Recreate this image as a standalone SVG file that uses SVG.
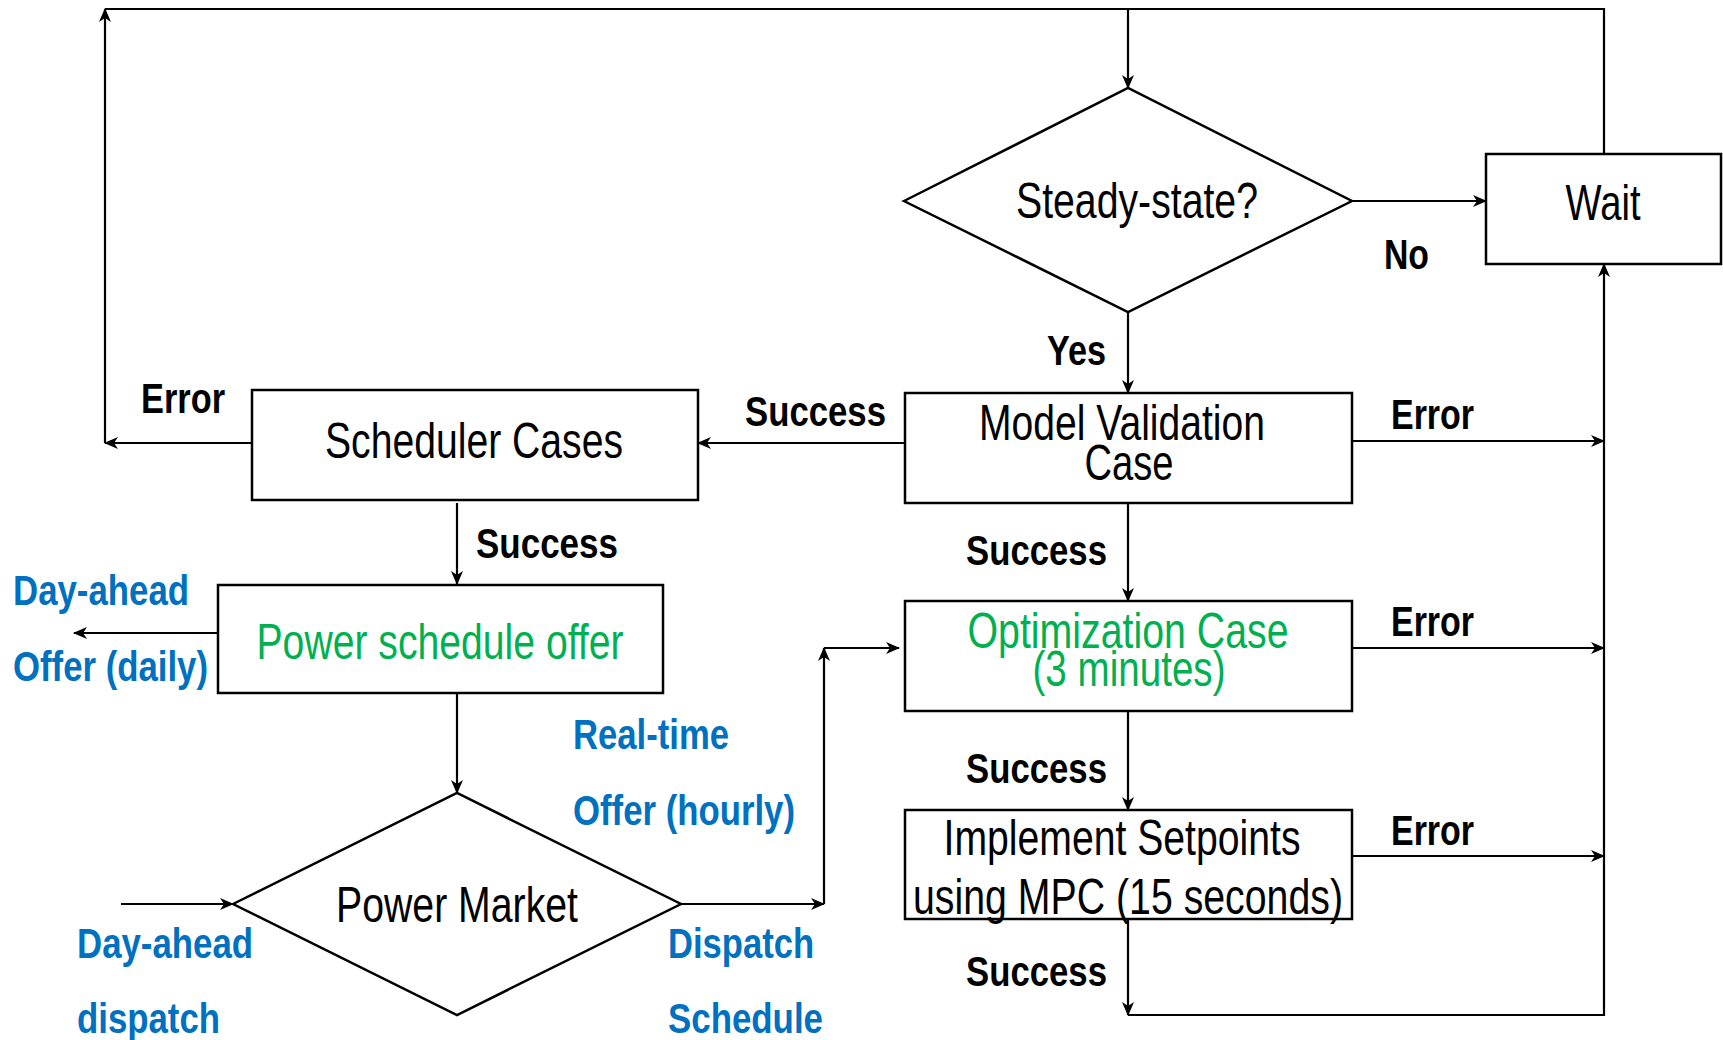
<svg xmlns="http://www.w3.org/2000/svg" width="1723" height="1040" viewBox="0 0 1723 1040">
<defs>
<marker id="ah" viewBox="0 0 14 12" refX="13" refY="6" markerWidth="14" markerHeight="12" markerUnits="userSpaceOnUse" orient="auto">
<path d="M0,0 L14,6 L0,12 L4,6 z" fill="#000"/>
</marker>
<style>
.box{fill:#fff;stroke:#000;stroke-width:2.5}
.c{fill:none;stroke:#000;stroke-width:2.2}
.a{marker-end:url(#ah)}
.n{font-family:"Liberation Sans Narrow","Liberation Sans",Arial,sans-serif;font-size:50px;fill:#000;text-anchor:middle}
.g{fill:#00B050}
.l{font-family:"Liberation Sans Narrow","Liberation Sans",Arial,sans-serif;font-size:42px;font-weight:bold;fill:#000}
.b{fill:#0070C0}
</style>
</defs>
<g id="connectors">
<path class="c a" d="M252,443 H105"/>
<path class="c a" d="M105,443 V9"/>
<path class="c" d="M105,9 H1604 V154"/>
<path class="c a" d="M1128,9 V88"/>
<path class="c a" d="M1352,201 H1486"/>
<path class="c a" d="M1128,312 V393"/>
<path class="c a" d="M905,443 H698"/>
<path class="c a" d="M1352,441 H1604"/>
<path class="c a" d="M1128,503 V601"/>
<path class="c a" d="M1352,648 H1604"/>
<path class="c a" d="M1128,711 V810"/>
<path class="c a" d="M1352,856 H1604"/>
<path class="c a" d="M1128,919 V1015"/>
<path class="c a" d="M1128,1015 H1604 V264"/>
<path class="c a" d="M457,503 V584"/>
<path class="c a" d="M218,633 H74"/>
<path class="c a" d="M457,693 V793"/>
<path class="c a" d="M121,904 H233"/>
<path class="c a" d="M681,904 H824"/>
<path class="c a" d="M824,904 V648"/>
<path class="c a" d="M824,648 H899"/>
</g>
<g id="steady">
<polygon class="box" points="904,201 1128,88 1352,201 1128,312"/>
<text class="n" x="1137" y="218" textLength="242" lengthAdjust="spacingAndGlyphs">Steady-state?</text>
</g>
<g id="wait">
<rect class="box" x="1486" y="154" width="235" height="110"/>
<text class="n" x="1603" y="220" textLength="75" lengthAdjust="spacingAndGlyphs">Wait</text>
</g>
<g id="model">
<rect class="box" x="905" y="393" width="447" height="110"/>
<text class="n" x="1122" y="440" textLength="286" lengthAdjust="spacingAndGlyphs">Model Validation</text>
<text class="n" x="1129" y="480" textLength="89" lengthAdjust="spacingAndGlyphs">Case</text>
</g>
<g id="scheduler">
<rect class="box" x="252" y="390" width="446" height="110"/>
<text class="n" x="474" y="458" textLength="298" lengthAdjust="spacingAndGlyphs">Scheduler Cases</text>
</g>
<g id="offer">
<rect class="box" x="218" y="585" width="445" height="108"/>
<text class="n g" x="440" y="659" textLength="367" lengthAdjust="spacingAndGlyphs">Power schedule offer</text>
</g>
<g id="market">
<polygon class="box" points="233,904 457,793 681,904 457,1015"/>
<text class="n" x="457" y="922" textLength="242" lengthAdjust="spacingAndGlyphs">Power Market</text>
</g>
<g id="optimization">
<rect class="box" x="905" y="601" width="447" height="110"/>
<text class="n g" x="1128" y="648" textLength="321" lengthAdjust="spacingAndGlyphs">Optimization Case</text>
<text class="n g" x="1129" y="686" textLength="193" lengthAdjust="spacingAndGlyphs">(3 minutes)</text>
</g>
<g id="implement">
<rect class="box" x="905" y="810" width="447" height="109"/>
<text class="n" x="1122" y="855" textLength="357" lengthAdjust="spacingAndGlyphs">Implement Setpoints</text>
<text class="n" x="1128" y="914" textLength="430" lengthAdjust="spacingAndGlyphs">using MPC (15 seconds)</text>
</g>
<g id="labels">
<text class="l" x="141" y="413" textLength="84" lengthAdjust="spacingAndGlyphs">Error</text>
<text class="l" x="745" y="426" textLength="141" lengthAdjust="spacingAndGlyphs">Success</text>
<text class="l" x="1384" y="269" textLength="45" lengthAdjust="spacingAndGlyphs">No</text>
<text class="l" x="1047" y="365" textLength="59" lengthAdjust="spacingAndGlyphs">Yes</text>
<text class="l" x="1391" y="429" textLength="83" lengthAdjust="spacingAndGlyphs">Error</text>
<text class="l" x="1391" y="636" textLength="83" lengthAdjust="spacingAndGlyphs">Error</text>
<text class="l" x="1391" y="845" textLength="83" lengthAdjust="spacingAndGlyphs">Error</text>
<text class="l" x="476" y="558" textLength="142" lengthAdjust="spacingAndGlyphs">Success</text>
<text class="l" x="966" y="565" textLength="141" lengthAdjust="spacingAndGlyphs">Success</text>
<text class="l" x="966" y="783" textLength="141" lengthAdjust="spacingAndGlyphs">Success</text>
<text class="l" x="966" y="986" textLength="141" lengthAdjust="spacingAndGlyphs">Success</text>
<text class="l b" x="13" y="605" textLength="176" lengthAdjust="spacingAndGlyphs">Day-ahead</text>
<text class="l b" x="13" y="681" textLength="195" lengthAdjust="spacingAndGlyphs">Offer (daily)</text>
<text class="l b" x="573" y="749" textLength="156" lengthAdjust="spacingAndGlyphs">Real-time</text>
<text class="l b" x="573" y="825" textLength="222" lengthAdjust="spacingAndGlyphs">Offer (hourly)</text>
<text class="l b" x="77" y="958" textLength="176" lengthAdjust="spacingAndGlyphs">Day-ahead</text>
<text class="l b" x="77" y="1033" textLength="143" lengthAdjust="spacingAndGlyphs">dispatch</text>
<text class="l b" x="668" y="958" textLength="146" lengthAdjust="spacingAndGlyphs">Dispatch</text>
<text class="l b" x="668" y="1033" textLength="155" lengthAdjust="spacingAndGlyphs">Schedule</text>
</g>
</svg>
